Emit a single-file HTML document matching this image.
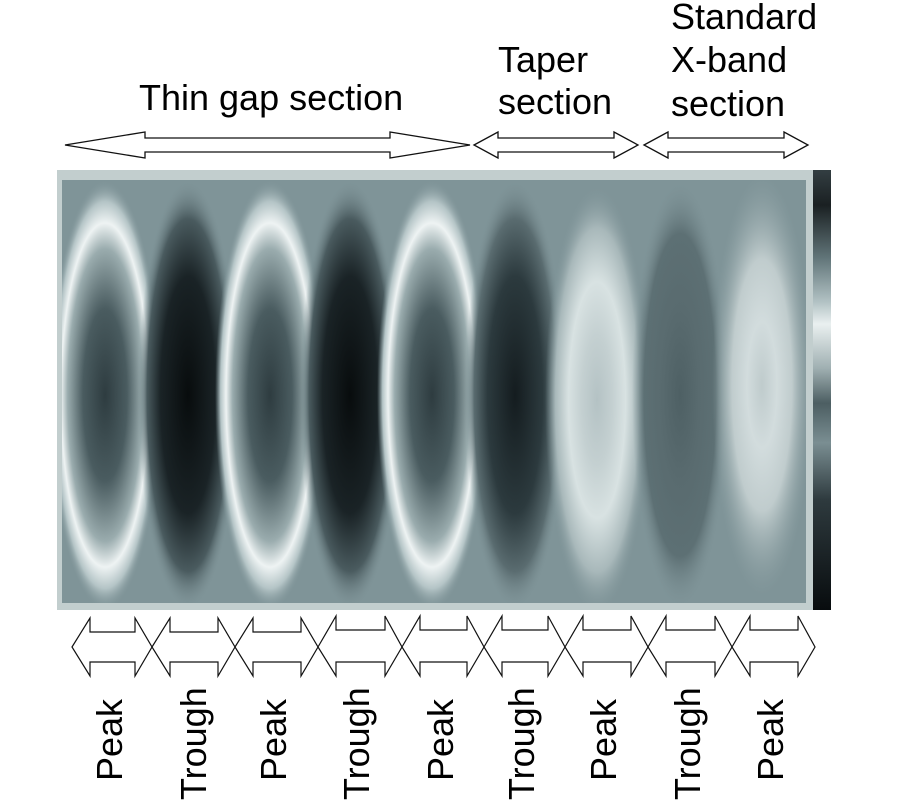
<!DOCTYPE html>
<html><head><style>html,body{margin:0;padding:0;background:#fff;}svg{display:block}</style></head>
<body>
<svg width="900" height="800" viewBox="0 0 900 800" xmlns="http://www.w3.org/2000/svg" font-family="Liberation Sans, Arial, sans-serif">
<defs>
<clipPath id="cp"><rect x="62" y="180" width="744" height="423"/></clipPath>
<radialGradient id="pk">
<stop offset="0" stop-color="#2e3c40"/><stop offset="0.4" stop-color="#4a5c60"/><stop offset="0.68" stop-color="#9aacae"/><stop offset="0.8" stop-color="#eef3f3"/><stop offset="0.9" stop-color="#b4c4c6"/><stop offset="1" stop-color="#7f9498" stop-opacity="0"/>
</radialGradient>
<radialGradient id="tr">
<stop offset="0" stop-color="#080c0d"/><stop offset="0.55" stop-color="#1a2326"/><stop offset="0.82" stop-color="#4a5b5f"/><stop offset="1" stop-color="#7f9498" stop-opacity="0"/>
</radialGradient>
<radialGradient id="tr2">
<stop offset="0" stop-color="#141c1f"/><stop offset="0.55" stop-color="#2c3a3e"/><stop offset="0.82" stop-color="#5a6c70"/><stop offset="1" stop-color="#7f9498" stop-opacity="0"/>
</radialGradient>
<radialGradient id="pk2">
<stop offset="0" stop-color="#b4c2c4"/><stop offset="0.3" stop-color="#c4d0d1"/><stop offset="0.55" stop-color="#d8e2e2"/><stop offset="0.8" stop-color="#a8b8ba"/><stop offset="1" stop-color="#7f9498" stop-opacity="0"/>
</radialGradient>
<radialGradient id="tr3">
<stop offset="0" stop-color="#4e6064"/><stop offset="0.4" stop-color="#596b6f"/><stop offset="0.75" stop-color="#5d7074"/><stop offset="1" stop-color="#7f9498" stop-opacity="0"/>
</radialGradient>
<radialGradient id="pk3">
<stop offset="0" stop-color="#bfcbcc"/><stop offset="0.3" stop-color="#d2dcdd"/><stop offset="0.6" stop-color="#c0cccd"/><stop offset="1" stop-color="#8fa2a5" stop-opacity="0"/>
</radialGradient>
<linearGradient id="cb" x1="0" y1="0" x2="0" y2="1">
<stop offset="0" stop-color="#333e42"/><stop offset="0.08" stop-color="#1a2022"/><stop offset="0.2" stop-color="#617579"/><stop offset="0.3" stop-color="#b2c2c4"/><stop offset="0.35" stop-color="#eaf0f0"/><stop offset="0.45" stop-color="#a0b0b2"/><stop offset="0.53" stop-color="#4c5e62"/><stop offset="0.62" stop-color="#7a8e92"/><stop offset="0.75" stop-color="#2e3a3e"/><stop offset="1" stop-color="#080c0e"/>
</linearGradient>
</defs>
<rect x="57" y="170" width="757" height="440" fill="#c2cece"/>
<rect x="62" y="180" width="744" height="423" fill="#7f9498"/>
<g clip-path="url(#cp)">
<ellipse cx="105" cy="395" rx="55" ry="215" fill="url(#pk)"/>
<ellipse cx="188" cy="395" rx="50" ry="215" fill="url(#tr)"/>
<ellipse cx="270" cy="395" rx="55" ry="215" fill="url(#pk)"/>
<ellipse cx="350" cy="395" rx="50" ry="215" fill="url(#tr)"/>
<ellipse cx="432" cy="395" rx="55" ry="215" fill="url(#pk)"/>
<ellipse cx="515" cy="395" rx="50" ry="215" fill="url(#tr2)"/>
<ellipse cx="597" cy="400" rx="52" ry="215" fill="url(#pk2)"/>
<ellipse cx="680" cy="395" rx="48" ry="215" fill="url(#tr3)"/>
<ellipse cx="762" cy="385" rx="50" ry="210" fill="url(#pk3)"/>
</g>
<rect x="813" y="170" width="18" height="440" fill="url(#cb)"/>
<g fill="#fff" stroke="#111" stroke-width="1.3">
<polygon points="65,145 145,132 145,138 390,138 390,132 470,145 390,158 390,152 145,152 145,158"/>
<polygon points="474,145 498,132 498,138 614,138 614,132 638,145 614,158 614,152 498,152 498,158"/>
<polygon points="644,145 668,132 668,138 784,138 784,132 808,145 784,158 784,152 668,152 668,158"/>
</g>
<g fill="#fff" stroke="#111" stroke-width="1.2">
<polygon points="72,647 90,618 90,632 135,632 135,618 152,647 135,676 135,662 90,662 90,676"/>
<polygon points="152,647 170,618 170,632 218,632 218,618 235,647 218,676 218,662 170,662 170,676"/>
<polygon points="235,647 253,618 253,632 301,632 301,618 318,647 301,676 301,662 253,662 253,676"/>
<polygon points="318,647 336,616 336,630 385,630 385,616 402,647 385,676 385,662 336,662 336,676"/>
<polygon points="402,647 420,616 420,630 467,630 467,616 484,647 467,676 467,662 420,662 420,676"/>
<polygon points="484,647 502,616 502,630 548,630 548,616 565,647 548,676 548,662 502,662 502,676"/>
<polygon points="565,647 583,616 583,630 631,630 631,616 648,647 631,676 631,662 583,662 583,676"/>
<polygon points="648,647 666,616 666,630 715,630 715,616 732,647 715,676 715,662 666,662 666,676"/>
<polygon points="732,647 750,616 750,630 798,630 798,616 815,647 798,676 798,662 750,662 750,676"/>
</g>
<g font-size="36" fill="#000">
<text x="139" y="110">Thin gap section</text>
<text x="498" y="72">Taper</text>
<text x="498" y="114">section</text>
<text x="671" y="29">Standard</text>
<text x="671" y="72">X-band</text>
<text x="671" y="116">section</text>
</g>
<g font-size="36" fill="#000">
<text transform="translate(122,781) rotate(-90)">Peak</text>
<text transform="translate(206,800) rotate(-90)">Trough</text>
<text transform="translate(286,781) rotate(-90)">Peak</text>
<text transform="translate(369,800) rotate(-90)">Trough</text>
<text transform="translate(453,781) rotate(-90)">Peak</text>
<text transform="translate(534,800) rotate(-90)">Trough</text>
<text transform="translate(616,781) rotate(-90)">Peak</text>
<text transform="translate(700,800) rotate(-90)">Trough</text>
<text transform="translate(783,781) rotate(-90)">Peak</text>
</g>
</svg>
</body></html>
